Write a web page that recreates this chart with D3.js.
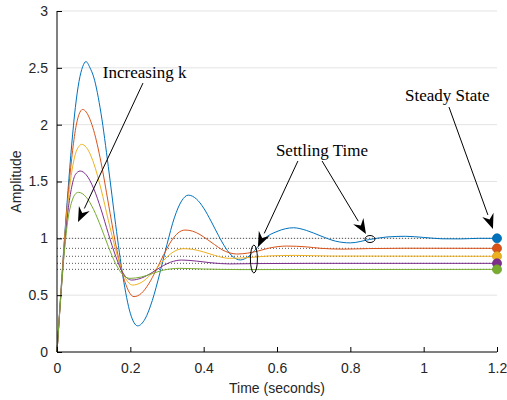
<!DOCTYPE html>
<html>
<head>
<meta charset="utf-8">
<script src="https://cdn.jsdelivr.net/npm/d3@7"></script>
<style>
  body { margin: 0; background: #fff; }
  svg { display: block; }
  .tick text { font-family: "Liberation Sans", Arial, sans-serif; font-size: 14px; }
  .note { font-family: "Liberation Serif", "Times New Roman", serif; font-size: 17px; }
</style>
</head>
<body>
<svg id="chart" width="507" height="400"></svg>
<script>
// step responses: [time, amplitude]
var k1 = [[0,0],[0.01,0.5],[0.02,0.98],[0.03,1.42],[0.04,1.82],[0.05,2.15],[0.06,2.38],[0.07,2.51],[0.079,2.555],[0.09,2.5],[0.10,2.42],[0.12,2.10],[0.14,1.63],[0.16,1.12],[0.18,0.66],[0.20,0.34],[0.22,0.23],[0.24,0.29],[0.26,0.454],[0.28,0.688],[0.30,0.947],[0.32,1.18],[0.34,1.33],[0.358,1.38],[0.38,1.347],[0.40,1.266],[0.42,1.152],[0.44,1.027],[0.46,0.915],[0.48,0.838],[0.50,0.81],[0.52,0.835],[0.545,0.915],[0.567,1.0],[0.60,1.06],[0.645,1.093],[0.68,1.07],[0.72,1.02],[0.76,0.975],[0.80,0.96],[0.853,0.99],[0.90,1.012],[0.95,1.018],[1.0,1.008],[1.05,0.996],[1.1,0.995],[1.15,1.0],[1.2,1.0]];
var k2 = [[0,0],[0.01,0.49],[0.02,0.96],[0.03,1.37],[0.04,1.70],[0.05,1.95],[0.06,2.09],[0.07,2.134],[0.08,2.11],[0.10,1.95],[0.12,1.67],[0.14,1.31],[0.16,0.95],[0.18,0.67],[0.21,0.487],[0.23,0.516],[0.25,0.599],[0.27,0.718],[0.29,0.849],[0.31,0.968],[0.33,1.047],[0.349,1.073],[0.37,1.063],[0.39,1.033],[0.41,0.99],[0.43,0.944],[0.45,0.9],[0.47,0.873],[0.49,0.862],[0.52,0.87],[0.55,0.89],[0.58,0.915],[0.626,0.932],[0.68,0.925],[0.72,0.912],[0.78,0.905],[0.85,0.91],[0.95,0.913],[1.2,0.912]];
var k3 = [[0,0],[0.01,0.48],[0.02,0.94],[0.03,1.32],[0.04,1.58],[0.05,1.74],[0.06,1.81],[0.067,1.827],[0.08,1.8],[0.10,1.662],[0.12,1.434],[0.14,1.159],[0.16,0.9],[0.18,0.695],[0.206,0.589],[0.23,0.612],[0.25,0.663],[0.27,0.731],[0.29,0.803],[0.31,0.864],[0.344,0.909],[0.37,0.903],[0.40,0.88],[0.43,0.85],[0.47,0.824],[0.52,0.83],[0.58,0.845],[0.65,0.85],[0.75,0.844],[1.2,0.842]];
var k4 = [[0,0],[0.01,0.47],[0.02,0.9],[0.03,1.24],[0.04,1.45],[0.05,1.56],[0.063,1.592],[0.08,1.558],[0.10,1.438],[0.12,1.256],[0.14,1.042],[0.16,0.843],[0.18,0.694],[0.204,0.633],[0.23,0.65],[0.26,0.7],[0.29,0.76],[0.31,0.79],[0.34,0.809],[0.38,0.8],[0.42,0.785],[0.47,0.775],[0.55,0.778],[0.7,0.78],[1.2,0.78]];
var k5 = [[0,0],[0.01,0.47],[0.02,0.88],[0.03,1.17],[0.04,1.32],[0.05,1.39],[0.058,1.405],[0.08,1.361],[0.10,1.252],[0.12,1.099],[0.14,0.928],[0.16,0.777],[0.18,0.678],[0.199,0.648],[0.23,0.66],[0.26,0.69],[0.29,0.72],[0.335,0.736],[0.4,0.73],[0.5,0.725],[1.2,0.727]];
var steadyValues = [1.0, 0.912, 0.842, 0.78, 0.727];
var lineColors = ["#0072BD", "#D95319", "#EDB120", "#7E2F8E", "#77AC30"];
var xTicks = [0, 0.2, 0.4, 0.6, 0.8, 1, 1.2];
var yTicks = [0, 0.5, 1, 1.5, 2, 2.5, 3];

var svg = d3.select("#chart"),
    plotLeft = 57, plotRight = 497, plotTop = 11, plotBottom = 352;

var x = d3.scaleLinear().domain([0, 1.2]).range([plotLeft, plotRight]);
var y = d3.scaleLinear().domain([0, 3]).range([plotBottom, plotTop]);

// horizontal grid
svg.append("g").selectAll("line").data(yTicks.slice(1)).enter().append("line")
  .attr("x1", plotLeft).attr("x2", plotRight)
  .attr("y1", function(d){ return y(d); }).attr("y2", function(d){ return y(d); })
  .attr("stroke", "#e3e3e3").attr("stroke-width", 1);

// steady state reference lines
svg.append("g").selectAll("line").data(steadyValues).enter().append("line")
  .attr("x1", x(0)).attr("x2", x(1.2))
  .attr("y1", function(d){ return y(d); }).attr("y2", function(d){ return y(d); })
  .attr("stroke", "#555").attr("stroke-width", 1).attr("stroke-dasharray", "1,2");

// responses
var line = d3.line().x(function(d){ return x(d[0]); }).y(function(d){ return y(d[1]); }).curve(d3.curveMonotoneX);
var allSeries = [k1, k2, k3, k4, k5];
svg.append("g").selectAll("path").data(allSeries).enter().append("path")
  .attr("d", line).attr("fill", "none")
  .attr("stroke", function(d,i){ return lineColors[i]; }).attr("stroke-width", 1);

// end markers
svg.append("g").selectAll("circle").data(steadyValues).enter().append("circle")
  .attr("cx", x(1.2)).attr("cy", function(d){ return y(d); }).attr("r", 4.5)
  .attr("fill", function(d,i){ return lineColors[i]; })
  .attr("stroke", function(d,i){ return d3.color(lineColors[i]).darker(0.3); }).attr("stroke-width", 0.8);

// axes, ticks inward
var xAxis = svg.append("g").attr("transform", "translate(0," + plotBottom + ")")
  .call(d3.axisBottom(x).tickValues(xTicks).tickSize(-5).tickPadding(11).tickFormat(d3.format("")));
var yAxis = svg.append("g").attr("transform", "translate(" + plotLeft + ",0)")
  .call(d3.axisLeft(y).tickValues(yTicks).tickSize(-5).tickPadding(9).tickFormat(d3.format("")));
xAxis.select(".domain").attr("stroke", "#000").attr("d", "M" + plotLeft + ",0H" + plotRight);
yAxis.select(".domain").attr("stroke", "#000").attr("d", "M0," + plotBottom + "V" + plotTop);
[xAxis, yAxis].forEach(function(a){
  a.selectAll(".tick line").attr("stroke", "#000");
  a.selectAll(".tick text").attr("fill", "#262626");
});

svg.append("text").attr("x", (plotLeft + plotRight) / 2).attr("y", 393).attr("text-anchor", "middle")
  .style("font-family", "Liberation Sans, Arial, sans-serif").style("font-size", "14px").attr("fill", "#262626")
  .text("Time (seconds)");
svg.append("text").attr("transform", "translate(21," + ((plotTop + plotBottom) / 2) + ") rotate(-90)").attr("text-anchor", "middle")
  .style("font-family", "Liberation Sans, Arial, sans-serif").style("font-size", "14px").attr("fill", "#262626")
  .text("Amplitude");

// annotations (in data units)
function arrow(t0, v0, t1, v1) {
  var x0 = x(t0), y0 = y(v0), x1 = x(t1), y1 = y(v1);
  var a = Math.atan2(y1 - y0, x1 - x0), len = 15, w = 6;
  var bx = x1 - len * Math.cos(a), by = y1 - len * Math.sin(a);
  svg.append("line").attr("x1", x0).attr("y1", y0).attr("x2", bx).attr("y2", by)
    .attr("stroke", "#000").attr("stroke-width", 1);
  svg.append("path").attr("fill", "#000")
    .attr("d", "M" + x1 + "," + y1 +
      "L" + (bx + w * Math.sin(a)) + "," + (by - w * Math.cos(a)) +
      "L" + (x1 - 10 * Math.cos(a)) + "," + (y1 - 10 * Math.sin(a)) +
      "L" + (bx - w * Math.sin(a)) + "," + (by + w * Math.cos(a)) + "Z");
}
svg.append("text").attr("class", "note").attr("x", x(0.125)).attr("y", y(2.41)).text("Increasing k");
arrow(0.2345, 2.366, 0.0573, 1.143);

svg.append("text").attr("class", "note").attr("x", x(0.597)).attr("y", y(1.724)).text("Settling Time");
arrow(0.657, 1.68, 0.548, 0.924);
arrow(0.723, 1.68, 0.8427, 1.038);

svg.append("text").attr("class", "note").attr("x", x(0.949)).attr("y", y(2.208)).text("Steady State");
arrow(1.069, 2.155, 1.189, 1.082);

svg.append("ellipse").attr("cx", x(0.537)).attr("cy", y(0.818)).attr("rx", 3.5).attr("ry", 14)
  .attr("fill", "none").attr("stroke", "#000").attr("stroke-width", 1);
svg.append("ellipse").attr("cx", x(0.8536)).attr("cy", y(0.994)).attr("rx", 5).attr("ry", 3.5)
  .attr("fill", "none").attr("stroke", "#000").attr("stroke-width", 1);
</script>
</body>
</html>
